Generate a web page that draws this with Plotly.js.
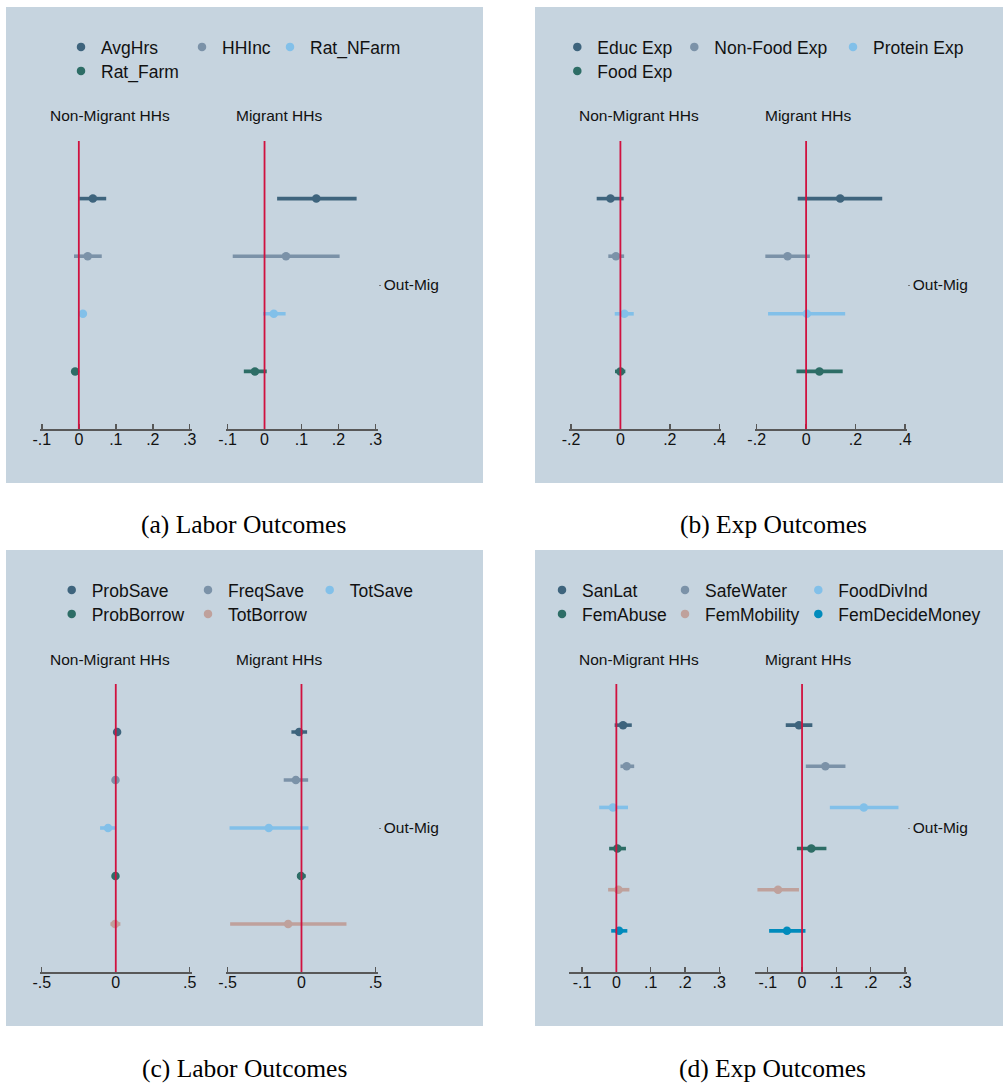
<!DOCTYPE html>
<html><head><meta charset="utf-8">
<script src="https://cdn.plot.ly/plotly-3.0.1.min.js"></script>
<style>html,body{margin:0;padding:0;background:#fff}#chart{width:1003px;height:1086px}</style>
</head><body><div id="chart"></div>
<script>
// ---------- DATA ----------
// (a) Labor Outcomes
const labelsA = ['AvgHrs', 'HHInc', 'Rat_NFarm', 'Rat_Farm'];
const nonA    = [0.038, 0.024, 0.011, -0.010];
const nonA_lo = [0.001, -0.013, 0.007, -0.013];
const nonA_hi = [0.074, 0.062, 0.015, -0.007];
const migA    = [0.140, 0.058, 0.025, -0.026];
const migA_lo = [0.034, -0.086, -0.004, -0.056];
const migA_hi = [0.249, 0.203, 0.057, 0.006];

// (b) Exp Outcomes
const labelsB = ['Educ Exp', 'Non-Food Exp', 'Protein Exp', 'Food Exp'];
const nonB    = [-0.040, -0.018, 0.016, 0.000];
const nonB_lo = [-0.096, -0.049, -0.023, -0.022];
const nonB_hi = [0.013, 0.015, 0.054, 0.020];
const migB    = [0.138, -0.075, 0.003, 0.054];
const migB_lo = [-0.034, -0.165, -0.154, -0.039];
const migB_hi = [0.308, 0.015, 0.158, 0.148];

// (c) Labor Outcomes (savings / borrowing)
const labelsC = ['ProbSave', 'FreqSave', 'TotSave', 'ProbBorrow', 'TotBorrow'];
const nonC    = [0.009, -0.002, -0.052, -0.002, -0.005];
const nonC_lo = [0.002, -0.008, -0.106, -0.008, -0.036];
const nonC_hi = [0.016, 0.004, 0.002, 0.004, 0.031];
const migC    = [-0.016, -0.038, -0.221, -0.003, -0.090];
const migC_lo = [-0.068, -0.120, -0.486, -0.030, -0.482];
const migC_hi = [0.038, 0.045, 0.047, 0.029, 0.304];

// (d) Exp Outcomes (welfare / empowerment)
const labelsD = ['SanLat', 'SafeWater', 'FoodDivInd', 'FemAbuse', 'FemMobility', 'FemDecideMoney'];
const nonD    = [0.0195, 0.030, -0.010, 0.003, 0.006, 0.008];
const nonD_lo = [-0.005, 0.012, -0.050, -0.021, -0.024, -0.015];
const nonD_hi = [0.045, 0.052, 0.034, 0.028, 0.038, 0.032];
const migD    = [-0.009, 0.068, 0.180, 0.027, -0.070, -0.044];
const migD_lo = [-0.0475, 0.011, 0.081, -0.015, -0.130, -0.096];
const migD_hi = [0.030, 0.1265, 0.281, 0.071, -0.009, 0.010];

const groupLabels = ['Non-Migrant HHs', 'Migrant HHs'];
const rowLabel = 'Out-Mig';

// ---------- STYLE ----------
const palette = ['#3e647d', '#7b92a8', '#82c0e9', '#2d6d66', '#bfa19c', '#008bbc'];
const BG = '#c6d4df';
const RED = '#d0113f';
const AX = '#585858';
const FONT = '"Liberation Sans", Arial, Helvetica, sans-serif';
const SERIF = '"Liberation Serif", "Times New Roman", serif';
const W = 1003, H = 1086;
const px = x => x / W, py = y => 1 - y / H;

const panels = [
  {labels: labelsA, non: [nonA, nonA_lo, nonA_hi], mig: [migA, migA_lo, migA_hi],
   range: [-0.105, 0.306], tv: [-0.1, 0, 0.1, 0.2, 0.3], tt: ['-.1', '0', '.1', '.2', '.3'],
   caption: '(a) Labor Outcomes', box: [6, 7, 483, 483], legX: [79, 200, 288], capX: 243.5, capY: 525},
  {labels: labelsB, non: [nonB, nonB_lo, nonB_hi], mig: [migB, migB_lo, migB_hi],
   range: [-0.208, 0.407], tv: [-0.2, 0, 0.2, 0.4], tt: ['-.2', '0', '.2', '.4'],
   caption: '(b) Exp Outcomes', box: [535, 7, 1003, 483], legX: [46.3, 163.3, 322], capX: 773, capY: 525},
  {labels: labelsC, non: [nonC, nonC_lo, nonC_hi], mig: [migC, migC_lo, migC_hi],
   range: [-0.512, 0.515], tv: [-0.5, 0, 0.5], tt: ['-.5', '0', '.5'],
   caption: '(c) Labor Outcomes', box: [6, 550, 483, 1026], legX: [69.7, 206, 327.7], capX: 244, capY: 1068},
  {labels: labelsD, non: [nonD, nonD_lo, nonD_hi], mig: [migD, migD_lo, migD_hi],
   range: [-0.138, 0.305], tv: [-0.1, 0, 0.1, 0.2, 0.3], tt: ['-.1', '0', '.1', '.2', '.3'],
   caption: '(d) Exp Outcomes', box: [535, 550, 1003, 1026], legX: [31, 154, 287.3], capX: 772, capY: 1068}
];

const traces = [];
const layout = {
  width: W, height: H, margin: {l: 0, r: 0, t: 0, b: 0},
  paper_bgcolor: '#ffffff', plot_bgcolor: 'rgba(0,0,0,0)',
  font: {family: FONT, color: '#111'},
  showlegend: true, shapes: [], annotations: []
};

let legendCount = 0;
panels.forEach((p, k) => {
  const [L, T, R, B] = p.box;
  const n = p.labels.length;
  layout.shapes.push({type: 'rect', xref: 'paper', yref: 'paper', x0: px(L), x1: px(R), y0: py(B), y1: py(T),
    fillcolor: BG, line: {width: 0}, layer: 'below'});
  const subs = [[L + 34, L + 186], [L + 219.7, L + 371.7]];
  const ydom = [py(T + 422), py(T + 134)];
  [0, 1].forEach(s => {
    const ai = 2 * k + s + 1;
    const xk = ai === 1 ? 'xaxis' : 'xaxis' + ai;
    const yk = ai === 1 ? 'yaxis' : 'yaxis' + ai;
    const xr = ai === 1 ? 'x' : 'x' + ai;
    const yr = ai === 1 ? 'y' : 'y' + ai;
    layout[xk] = {domain: [px(subs[s][0]), px(subs[s][1])], anchor: yr, range: p.range,
      tickvals: p.tv, ticktext: p.tt, ticks: 'inside', ticklen: 5, tickwidth: 1.4, tickcolor: AX,
      showline: true, linecolor: AX, linewidth: 2, showgrid: false, zeroline: false,
      ticklabelstandoff: -5,
      tickfont: {size: 16, color: '#111', family: FONT}, fixedrange: true};
    const yax = {domain: ydom, anchor: xr, range: [n + 1, 0], showgrid: false, zeroline: false,
      showline: false, fixedrange: true};
    if (s === 1) {
      Object.assign(yax, {side: 'right', tickvals: [(n + 1) / 2], ticktext: [rowLabel], ticks: 'outside',
        ticklen: 2, tickwidth: 1, tickcolor: '#777', tickfont: {size: 15.5, color: '#111', family: FONT}});
    } else {
      Object.assign(yax, {showticklabels: false, ticks: ''});
    }
    layout[yk] = yax;
    layout.shapes.push({type: 'line', xref: xr, yref: yr + ' domain', x0: 0, x1: 0, y0: 0, y1: 1,
      line: {color: RED, width: 1.8}, layer: 'above'});
    layout.annotations.push({xref: 'paper', yref: 'paper', x: px(subs[s][0] + 8), y: py(T + 109),
      xanchor: 'left', yanchor: 'middle', showarrow: false, text: groupLabels[s],
      font: {size: 15.5, color: '#111', family: FONT}});
    const src = s === 0 ? p.non : p.mig;
    p.labels.forEach((lab, i) => {
      const est = src[0][i], lo = src[1][i], hi = src[2][i];
      const tr = {type: 'scatter', mode: 'markers', name: lab, x: [est], y: [i + 1],
        xaxis: xr, yaxis: yr, hoverinfo: 'skip',
        marker: {color: palette[i], size: 8.5, line: {width: 0}},
        error_x: {type: 'data', symmetric: false, array: [hi - est], arrayminus: [est - lo],
          color: palette[i], thickness: 3.6, width: 0},
        showlegend: s === 0};
      if (s === 0) {
        legendCount += 1;
        const lid = legendCount === 1 ? 'legend' : 'legend' + legendCount;
        tr.legend = lid;
        const col = i % 3, row = Math.floor(i / 3);
        const mx = L + p.legX[col];
        const my = T + 40 + row * 24;
        layout[lid] = {x: px(mx - 24), y: py(my - 18), xanchor: 'left', yanchor: 'top',
          orientation: 'v', bgcolor: 'rgba(0,0,0,0)', borderwidth: 0,
          font: {size: 17.5, color: '#111', family: FONT}};
      } else {
        tr.legend = 'legend';
      }
      traces.push(tr);
    });
  });
  layout.annotations.push({xref: 'paper', yref: 'paper', x: px(p.capX), y: py(p.capY),
    xanchor: 'center', yanchor: 'middle', showarrow: false, text: p.caption,
    font: {size: 25.5, color: '#000', family: SERIF}});
});

Plotly.newPlot('chart', traces, layout, {displayModeBar: false, staticPlot: true});
</script></body></html>
